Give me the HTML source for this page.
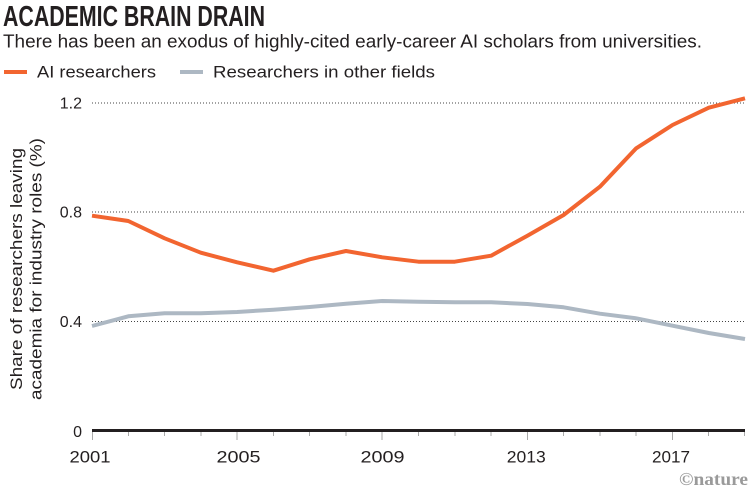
<!DOCTYPE html>
<html>
<head>
<meta charset="utf-8">
<style>
  html, body { margin: 0; padding: 0; background: #ffffff; }
  svg { display: block; }
  text { font-family: "Liberation Sans", sans-serif; fill: #231f20; }
</style>
</head>
<body>
<svg width="751" height="488" viewBox="0 0 751 488" xmlns="http://www.w3.org/2000/svg">
  <!-- Title -->
  <text x="3" y="26" font-size="29" font-weight="bold" textLength="262" lengthAdjust="spacingAndGlyphs">ACADEMIC BRAIN DRAIN</text>
  <text x="3" y="47.5" font-size="18" textLength="699" lengthAdjust="spacingAndGlyphs">There has been an exodus of highly-cited early-career AI scholars from universities.</text>

  <!-- Legend -->
  <line x1="4" y1="72" x2="27" y2="72" stroke="#f26530" stroke-width="4"/>
  <text x="37" y="77.5" font-size="17" textLength="119" lengthAdjust="spacingAndGlyphs">AI researchers</text>
  <line x1="180" y1="72" x2="203" y2="72" stroke="#adb8c3" stroke-width="4"/>
  <text x="213" y="77.5" font-size="17" textLength="222" lengthAdjust="spacingAndGlyphs">Researchers in other fields</text>

  <!-- Gridlines -->
  <g stroke="#444" stroke-width="1" stroke-dasharray="1 2">
    <line x1="92" y1="103" x2="744" y2="103"/>
    <line x1="92" y1="212" x2="744" y2="212"/>
    <line x1="92" y1="321.5" x2="744" y2="321.5"/>
  </g>

  <!-- Y tick labels -->
  <g font-size="16" text-anchor="end">
    <text x="82" y="108.5">1.2</text>
    <text x="82" y="217.5">0.8</text>
    <text x="82" y="327">0.4</text>
    <text x="82" y="437">0</text>
  </g>

  <!-- Y axis title -->
  <g transform="rotate(-90)" font-size="17" text-anchor="middle">
    <text x="-269" y="22" textLength="242" lengthAdjust="spacingAndGlyphs">Share of researchers leaving</text>
    <text x="-269" y="41.5" textLength="262" lengthAdjust="spacingAndGlyphs">academia for industry roles (%)</text>
  </g>

  <!-- Ticks -->
  <g stroke="#aaaaaa" stroke-width="1">
    <line x1="92.5" y1="431" x2="92.5" y2="440"/>
    <line x1="128.5" y1="431" x2="128.5" y2="436"/>
    <line x1="164.5" y1="431" x2="164.5" y2="436"/>
    <line x1="201" y1="431" x2="201" y2="436"/>
    <line x1="237" y1="431" x2="237" y2="440"/>
    <line x1="273.5" y1="431" x2="273.5" y2="436"/>
    <line x1="309.5" y1="431" x2="309.5" y2="436"/>
    <line x1="346" y1="431" x2="346" y2="436"/>
    <line x1="382" y1="431" x2="382" y2="440"/>
    <line x1="418.5" y1="431" x2="418.5" y2="436"/>
    <line x1="455" y1="431" x2="455" y2="436"/>
    <line x1="491" y1="431" x2="491" y2="436"/>
    <line x1="527.5" y1="431" x2="527.5" y2="440"/>
    <line x1="563.5" y1="431" x2="563.5" y2="436"/>
    <line x1="600" y1="431" x2="600" y2="436"/>
    <line x1="636" y1="431" x2="636" y2="436"/>
    <line x1="672.5" y1="431" x2="672.5" y2="440"/>
    <line x1="708.5" y1="431" x2="708.5" y2="436"/>
    <line x1="744.5" y1="431" x2="744.5" y2="436"/>
  </g>

  <!-- X axis line -->
  <line x1="92" y1="430.5" x2="745" y2="430.5" stroke="#231f20" stroke-width="3"/>

  <!-- X tick labels -->
  <g font-size="17" text-anchor="middle">
    <text x="90" y="462.5" textLength="41" lengthAdjust="spacingAndGlyphs">2001</text>
    <text x="238.5" y="462.5" textLength="44" lengthAdjust="spacingAndGlyphs">2005</text>
    <text x="382.5" y="462.5" textLength="44" lengthAdjust="spacingAndGlyphs">2009</text>
    <text x="526.3" y="462.5" textLength="39" lengthAdjust="spacingAndGlyphs">2013</text>
    <text x="671" y="462.5" textLength="38" lengthAdjust="spacingAndGlyphs">2017</text>
  </g>

  <!-- Series: other fields -->
  <polyline fill="none" stroke="#adb8c3" stroke-width="4" stroke-linejoin="round" stroke-linecap="butt"
    points="92,326 128.3,316.3 164.6,313.3 200.8,313.3 237.1,312 273.4,309.7 309.7,307 346,303.7 382.2,301 418.5,301.7 454.8,302.3 491.1,302.3 527.4,304 563.6,307.3 599.9,313.7 636.2,318.3 672.5,325.7 708.8,333 745,339"/>

  <!-- Series: AI researchers -->
  <polyline fill="none" stroke="#f26530" stroke-width="4" stroke-linejoin="round" stroke-linecap="butt"
    points="92,215.7 128.3,221 164.6,238.3 200.8,252.7 237.1,262.3 273.4,270.7 309.7,259.3 346,251 382.2,257.3 418.5,261.7 454.8,261.7 491.1,255.7 527.4,235.7 563.6,215 599.9,186.7 636.2,148.3 672.5,125 708.8,107.7 745,98.3"/>

  <!-- Credit -->
  <text x="748" y="485" font-family="Liberation Serif, serif" font-weight="bold" font-size="18" text-anchor="end" fill="#9a9a9a" style="fill:#9a9a9a;font-family:'Liberation Serif',serif" textLength="69" lengthAdjust="spacingAndGlyphs">©nature</text>
</svg>
</body>
</html>
